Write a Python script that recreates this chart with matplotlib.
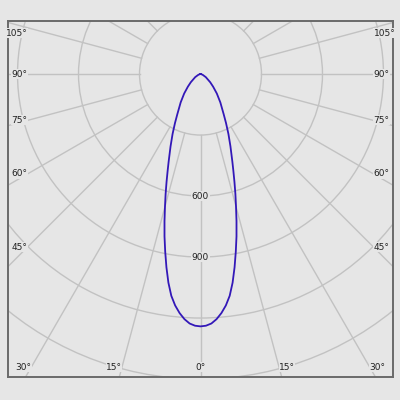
#!/usr/bin/env python3
"""Polar light distribution curve (cd), cropped to a rectangle like a luminaire data sheet."""

import numpy as np
import matplotlib
matplotlib.use("Agg")
import matplotlib.pyplot as plt
from matplotlib.patches import Circle

# intensity, angle from nadir (deg) -> cd, symmetric curve
angles = [0, 1.25, 2.5, 3.75, 5, 6.25, 7.5, 8.75, 10, 11.25, 12.5, 13.75, 15, 16.25, 17.5,
          18.75, 20, 22.5, 25, 27.5, 30, 35, 40, 45, 50, 60, 70, 80, 90]
intensity = [1241, 1238, 1228, 1208, 1180, 1145, 1100, 1038, 965, 890, 818, 745, 675, 613, 555,
             503, 458, 385, 325, 272, 228, 170, 125, 88, 62, 30, 12, 4, 0]

ring_values = [300, 600, 900, 1200, 1500, 1800]
ring_labels = ["600", "900"]
spoke_angles = list(range(-180, 181, 15))
side_labels = [105, 90, 75, 60, 45]
bottom_labels = [30, 15, 0, 15, 30]
bottom_angles = [-30, -15, 0, 15, 30]

BG = "#e6e6e6"
GRID = "#c2c2c2"
CURVE = "#3318b8"


def main():
    fig = plt.figure(figsize=(4, 4), dpi=100, facecolor=BG)
    ax = fig.add_axes([0.02, 0.0575, 0.9625, 0.89])
    ax.set_facecolor(BG)
    ax.set_xlim(-946, 946)
    ax.set_ylim(-1490, 261)
    ax.set_aspect("equal", adjustable="box")
    ax.set_xticks([])
    ax.set_yticks([])
    for sp in ax.spines.values():
        sp.set_color("#6a6a6a")
        sp.set_linewidth(1.4)

    # grid rings and spokes
    for r in ring_values:
        ax.add_patch(Circle((0, 0), r, fill=False, color=GRID, lw=1.0, zorder=1))
    r0, r1 = ring_values[0], ring_values[-1] + 500
    for a in spoke_angles:
        t = np.radians(a)
        ax.plot([r0 * np.sin(t), r1 * np.sin(t)], [-r0 * np.cos(t), -r1 * np.cos(t)],
                color=GRID, lw=1.0, zorder=1)

    # curve (mirror the half curve)
    full_ang = [-a for a in angles[::-1]] + angles[1:]
    full_int = intensity[::-1] + intensity[1:]
    t = np.radians(full_ang)
    ix = np.array(full_int)
    ax.plot(ix * np.sin(t), -ix * np.cos(t), color=CURVE, lw=1.3, zorder=3)

    # ring value labels on the vertical axis
    for lab in ring_labels:
        ax.text(0, -float(lab), lab, ha="center", va="center", fontsize=6.5, color="#222222",
                zorder=4, bbox=dict(boxstyle="square,pad=0.1", fc=BG, ec="none"))

    # angle labels along the sides
    inset_x = 851
    for a in side_labels:
        y = -inset_x / np.tan(np.radians(a)) if a != 90 else 0.0
        y = min(y, 200)
        ax.text(-inset_x, y, f"{a}°", ha="right", va="center", fontsize=6.5, color="#222222", zorder=4,
                bbox=dict(boxstyle="square,pad=0.05", fc=BG, ec="none"))
        ax.text(inset_x, y, f"{a}°", ha="left", va="center", fontsize=6.5, color="#222222", zorder=4,
                bbox=dict(boxstyle="square,pad=0.05", fc=BG, ec="none"))

    # angle labels along the bottom
    inset_y = 1441
    for a, lab in zip(bottom_angles, bottom_labels):
        x = inset_y * np.tan(np.radians(a))
        ha = "center" if a == 0 else ("right" if a < 0 else "left")
        ax.text(x, -inset_y, f"{lab}°", ha=ha, va="center", fontsize=6.5, color="#222222", zorder=4,
                bbox=dict(boxstyle="square,pad=0.05", fc=BG, ec="none"))

    fig.savefig("out.png", dpi=100, facecolor=BG)


if __name__ == "__main__":
    main()
